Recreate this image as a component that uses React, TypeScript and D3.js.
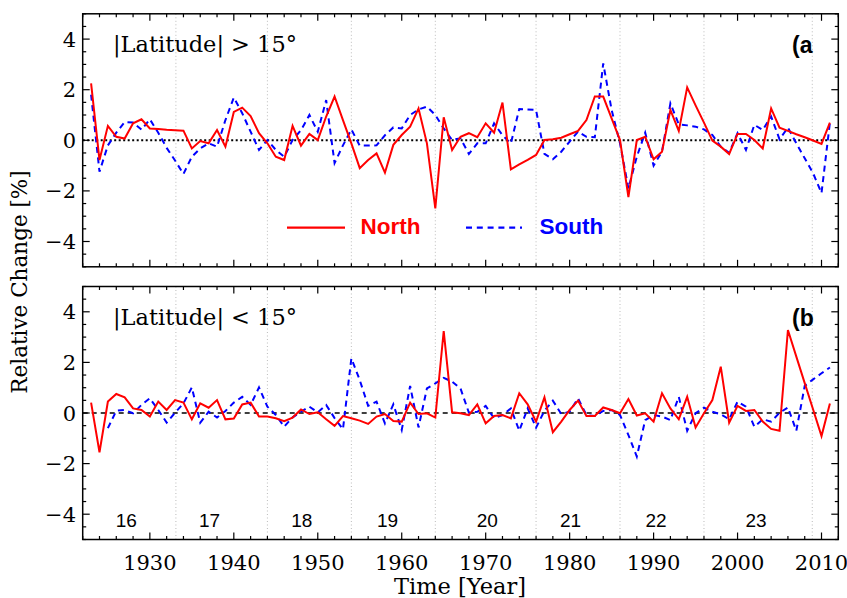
import React from "react";
import * as d3 from "d3";

const years: number[] = d3.range(1923, 2012);

const northA: number[] = [
  2.25, -0.78, 0.57, 0.14, 0.07, 0.67, 0.83, 0.47, 0.45, 0.42,
  0.40, 0.38, -0.32, -0.03, -0.12, 0.41, -0.25, 1.12, 1.29, 0.96,
  0.28, -0.12, -0.65, -0.78, 0.57, -0.21, 0.25, 0.01, 0.94, 1.73,
  0.8, -0.12, -1.1, -0.78, -0.52, -1.28, -0.18, 0.21, 0.54, 1.26,
  -0.12, -2.69, 0.91, -0.38, 0.14, 0.28, 0.12, 0.67, 0.3, 1.49,
  -1.15, -0.95, -0.77, -0.58, 0.01, 0.04, 0.1, 0.24, 0.37, 0.8,
  1.73, 1.73, 0.87, 0.01, -2.25, 0.01, 0.14, -0.75, -0.45, 1.2,
  0.37, 2.09, 1.38, 0.7, -0.01, -0.25, -0.54, 0.25, 0.25, 0.01,
  -0.32, 1.26, 0.5, 0.37, 0.24, 0.12, -0.01, -0.14, 0.7,
];

const southA: number[] = [
  1.8, -1.24, -0.2, 0.3, 0.72, 0.7, 0.42, 0.83, 0.3, -0.3,
  -0.8, -1.33, -0.65, -0.32, -0.12, -0.25, 0.8, 1.69, 1.07, 0.34,
  -0.38, 0.01, -0.38, -0.65, 0.01, 0.4, 1.0, 0.34, 1.59, -0.9,
  -0.2, 0.43, -0.21, -0.21, -0.2, 0.2, 0.51, 0.47, 1.0, 1.22,
  1.33, 1.0, 0.47, 0.01, 0.08, -0.54, -0.12, -0.12, 0.67, 0.2,
  -0.12, 1.24, 1.22, 1.2, -0.54, -0.75, -0.45, -0.05, 0.34, 0.14,
  0.12, 3.04, 1.2, -0.12, -1.9, -0.65, 0.3, -1.0, -0.45, 1.46,
  0.63, 0.59, 0.54, 0.43, 0.21, -0.25, -0.49, 0.28, -0.38, 0.61,
  0.41, 0.94, 0.04, 0.5, -0.12, -0.71, -1.3, -2.09, 0.7,
];

const northB: number[] = [
  0.41, -1.55, 0.45, 0.75, 0.62, 0.18, 0.12, -0.14, 0.45, 0.12,
  0.51, 0.41, -0.25, 0.38, 0.21, 0.51, -0.25, -0.22, 0.34, 0.41,
  -0.14, -0.14, -0.21, -0.32, -0.18, 0.14, -0.04, 0.03, -0.25, -0.51,
  -0.12, -0.21, -0.3, -0.43, -0.14, -0.04, -0.32, -0.34, 0.41, -0.04,
  -0.01, -0.18, 3.24, 0.03, -0.01, -0.08, 0.34, -0.41, -0.12, -0.08,
  -0.21, 0.78, 0.34, -0.34, 0.62, -0.76, -0.34, 0.12, 0.49, -0.12,
  -0.12, 0.22, 0.12, -0.01, 0.55, -0.1, -0.01, -0.34, 0.78, 0.18,
  -0.25, 0.64, -0.57, -0.01, 0.51, 1.83, -0.38, 0.28, 0.08, 0.12,
  -0.34, -0.63, -0.7, 3.28, 2.23, 1.18, 0.14, -0.91, 0.38,
];

const southB: (number | null)[] = [
  null, null, -0.6, 0.09, 0.12, -0.01, 0.32, 0.58, 0.12, -0.38,
  0.01, 0.38, 1.01, -0.38, 0.05, -0.18, 0.08, 0.41, 0.64, 0.32,
  1.01, 0.25, -0.08, -0.54, -0.17, 0.05, 0.25, 0.03, 0.32, -0.2,
  -0.64, 2.16, 1.3, 0.28, 0.45, -0.41, 0.34, -0.67, 1.07, -0.57,
  0.97, 1.17, 1.39, 1.24, 0.97, 0.01, 0.05, 0.28, -0.21, -0.08,
  0.18, -0.7, 0.18, -0.58, 0.09, 0.49, -0.04, 0.05, 0.58, -0.08,
  -0.12, 0.08, 0.12, -0.08, -0.87, -1.72, -0.28, -0.08, -0.14, -0.28,
  0.64, -0.7, -0.01, 0.21, 0.05, -0.05, -0.25, 0.45, 0.25, -0.54,
  -0.25, -0.34, 0.01, 0.22, -0.7, 1.07, 1.33, 1.57, 1.8,
];

const cycleBounds: number[] = [1933.1, 1944.0, 1954.0, 1964.0, 1976.0, 1986.0, 1996.0, 2008.9];
const cycleLabels: string[] = ["16", "17", "18", "19", "20", "21", "22", "23"];
const cycleLabelYears: number[] = [1927.2, 1937.1, 1948.1, 1958.3, 1970.2, 1980.1, 1990.3, 2002.2];

const xMajorTicks: number[] = [1930, 1940, 1950, 1960, 1970, 1980, 1990, 2000, 2010];
const yMajorTicks: number[] = [-4, -2, 0, 2, 4];

const W = 847;
const H = 598;
const left = 82.7;
const right = 838.3;
const panels = [
  { top: 13.8, bottom: 266.8, north: northA as (number | null)[], south: southA as (number | null)[], title: "|Latitude| > 15°", tag: "(a", zeroDash: "2,2.5", zeroWidth: 2, showCycles: false, showX: false, legend: true },
  { top: 286.5, bottom: 539.5, north: northB as (number | null)[], south: southB, title: "|Latitude| < 15°", tag: "(b", zeroDash: "5,4", zeroWidth: 1.3, showCycles: true, showX: true, legend: false },
];

const serif = "'DejaVu Serif', serif";
const sans = "'Liberation Sans', Arial, sans-serif";

export default function App() {
  const x = d3.scaleLinear().domain([1922, 2012]).range([left, right]);
  const minorX = d3.range(1922, 2013, 2).filter((v) => v % 10 !== 0);
  const minorY = d3.range(-5, 5.01, 0.5).filter((v) => v % 2 !== 0);

  return (
    <svg width={W} height={H} style={{ position: "absolute", left: 0, top: 0, background: "#fff" }}>
      <rect x={0} y={0} width={W} height={H} fill="#fff" />
      {panels.map((p, pi) => {
        const y = d3.scaleLinear().domain([-5, 5]).range([p.bottom, p.top]);
        const line = d3
          .line<number | null>()
          .defined((d) => d !== null)
          .x((_, i) => x(years[i]))
          .y((d) => y(d as number));
        return (
          <g key={pi}>
            <defs>
              <clipPath id={`clip${pi}`}>
                <rect x={left} y={p.top} width={right - left} height={p.bottom - p.top} />
              </clipPath>
            </defs>
            {cycleBounds.map((b) => (
              <line key={b} x1={x(b)} x2={x(b)} y1={p.top} y2={p.bottom} stroke="#bbb" strokeWidth={1} strokeDasharray="1,2.5" />
            ))}
            <line x1={left} x2={right} y1={y(0)} y2={y(0)} stroke="#000" strokeWidth={p.zeroWidth} strokeDasharray={p.zeroDash} />
            <g clipPath={`url(#clip${pi})`}>
              <path d={line(p.south) || ""} fill="none" stroke="#0000ff" strokeWidth={2} strokeDasharray="6,4.5" />
              <path d={line(p.north) || ""} fill="none" stroke="#ff0000" strokeWidth={2} />
            </g>
            <rect x={left} y={p.top} width={right - left} height={p.bottom - p.top} fill="none" stroke="#000" strokeWidth={1.5} />
            {xMajorTicks.map((t) => (
              <g key={t}>
                <line x1={x(t)} x2={x(t)} y1={p.bottom} y2={p.bottom - 7} stroke="#000" strokeWidth={1.2} />
                <line x1={x(t)} x2={x(t)} y1={p.top} y2={p.top + 7} stroke="#000" strokeWidth={1.2} />
              </g>
            ))}
            {minorX.map((t) => (
              <g key={t}>
                <line x1={x(t)} x2={x(t)} y1={p.bottom} y2={p.bottom - 3.5} stroke="#000" strokeWidth={1.2} />
                <line x1={x(t)} x2={x(t)} y1={p.top} y2={p.top + 3.5} stroke="#000" strokeWidth={1.2} />
              </g>
            ))}
            {yMajorTicks.map((t) => (
              <g key={t}>
                <line x1={left} x2={left + 7} y1={y(t)} y2={y(t)} stroke="#000" strokeWidth={1.2} />
                <line x1={right} x2={right - 7} y1={y(t)} y2={y(t)} stroke="#000" strokeWidth={1.2} />
                <text x={76} y={y(t) + 7.5} textAnchor="end" fontFamily={serif} fontSize={21} fill="#000">
                  {t < 0 ? "\u2212" + Math.abs(t) : String(t)}
                </text>
              </g>
            ))}
            {minorY.map((t) => (
              <g key={t}>
                <line x1={left} x2={left + 3.5} y1={y(t)} y2={y(t)} stroke="#000" strokeWidth={1.2} />
                <line x1={right} x2={right - 3.5} y1={y(t)} y2={y(t)} stroke="#000" strokeWidth={1.2} />
              </g>
            ))}
            <text x={113} y={p.top + 38.5} fontFamily={serif} fontSize={22.5} fill="#000" textLength={184} lengthAdjust="spacing">
              {p.title}
            </text>
            <text x={792} y={p.top + 39.5} fontFamily={sans} fontWeight="bold" fontSize={23} fill="#000">
              {p.tag}
            </text>
            {p.showCycles &&
              cycleLabels.map((c, i) => (
                <text key={c} x={x(cycleLabelYears[i])} y={527} textAnchor="middle" fontFamily={sans} fontSize={19} fill="#000">
                  {c}
                </text>
              ))}
            {p.showX &&
              xMajorTicks.map((t) => (
                <text key={t} x={x(t)} y={570} textAnchor="middle" fontFamily={serif} fontSize={21} fill="#000">
                  {t}
                </text>
              ))}
            {p.legend && (
              <g>
                <line x1={287} x2={345} y1={227.7} y2={227.7} stroke="#ff0000" strokeWidth={2.2} />
                <text x={360.5} y={234.3} fontFamily={sans} fontWeight="bold" fontSize={22.5} fill="#ff0000">
                  North
                </text>
                <line x1={466} x2={522} y1={227.7} y2={227.7} stroke="#0000ff" strokeWidth={2.2} strokeDasharray="6,4.8" />
                <text x={539.5} y={234.3} fontFamily={sans} fontWeight="bold" fontSize={22.5} fill="#0000ff">
                  South
                </text>
              </g>
            )}
          </g>
        );
      })}
      <text x={460} y={594} textAnchor="middle" fontFamily={serif} fontSize={22.5} fill="#000">
        Time [Year]
      </text>
      <text transform="translate(27,282) rotate(-90)" textAnchor="middle" fontFamily={serif} fontSize={21.5} fill="#000">
        Relative Change [%]
      </text>
    </svg>
  );
}
